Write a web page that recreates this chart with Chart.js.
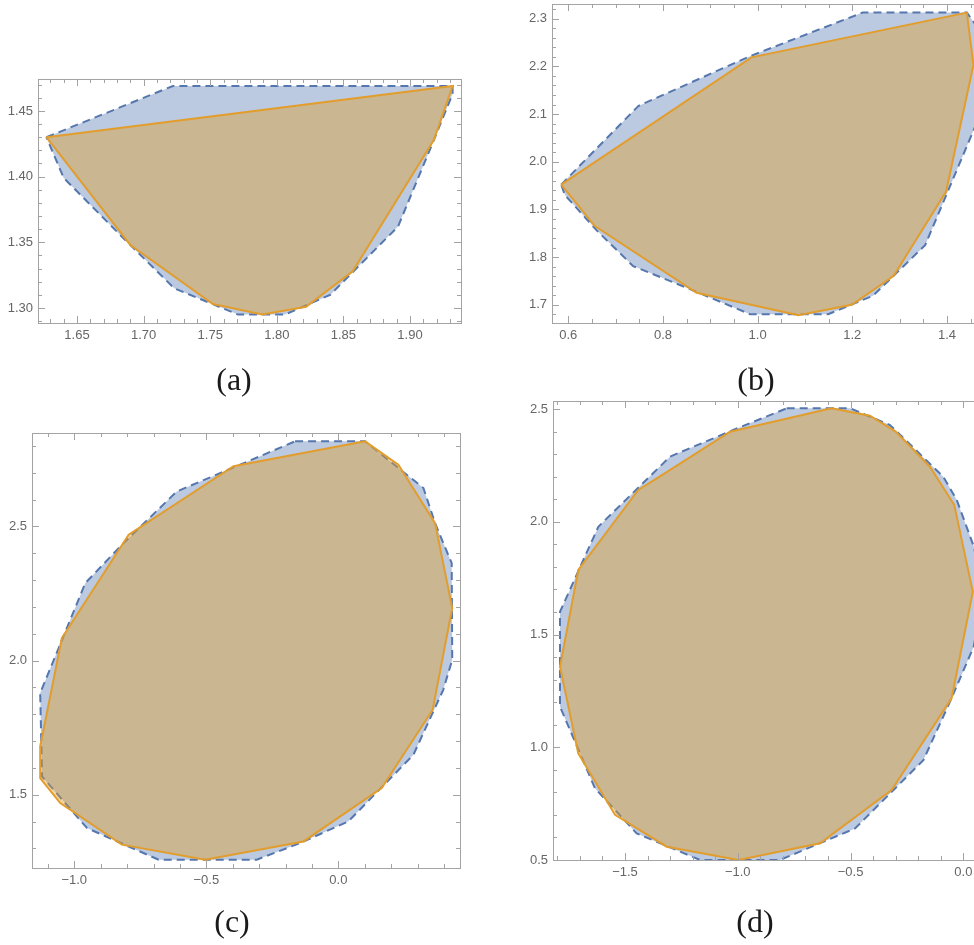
<!DOCTYPE html>
<html>
<head>
<meta charset="utf-8">
<script src="https://cdn.jsdelivr.net/npm/chart.js@4.4.1/dist/chart.umd.min.js"></script>
<style>
html, body { margin: 0; padding: 0; background: #fff; overflow: hidden; width: 974px; height: 945px; }
.panel { position: absolute; }
.cap { position: absolute; font-family: "Liberation Serif", "DejaVu Serif", serif; font-size: 32px; color: #1a1a1a; transform: translate(-50%, -50%); }
</style>
</head>
<body>
<div class="panel" style="left:0;top:0"><canvas id="ca" width="487" height="400"></canvas></div>
<div class="panel" style="left:487px;top:0"><canvas id="cb" width="510" height="400"></canvas></div>
<div class="panel" style="left:0;top:400px"><canvas id="cc" width="487" height="545"></canvas></div>
<div class="panel" style="left:487px;top:390px"><canvas id="cd" width="510" height="555"></canvas></div>
<div class="cap" style="left:234px;top:379px">(a)</div>
<div class="cap" style="left:756px;top:379px">(b)</div>
<div class="cap" style="left:232px;top:921px">(c)</div>
<div class="cap" style="left:755px;top:921px">(d)</div>
<script>
// panel (a)
var aBlueX = [1.627, 1.722, 1.932, 1.932, 1.918, 1.891, 1.840, 1.806, 1.771, 1.723, 1.686, 1.640];
var aBlueY = [1.430, 1.469, 1.469, 1.463, 1.428, 1.362, 1.310, 1.295, 1.295, 1.315, 1.352, 1.399];
var aOrangeX = [1.627, 1.932, 1.918, 1.857, 1.822, 1.789, 1.752, 1.690];
var aOrangeY = [1.430, 1.469, 1.428, 1.328, 1.301, 1.295, 1.303, 1.348];
var aTicksX = [1.65, 1.70, 1.75, 1.80, 1.85, 1.90];
var aTicksY = [1.30, 1.35, 1.40, 1.45];

// panel (b)
var bBlueX = [0.585, 0.748, 0.985, 1.222, 1.442, 1.466, 1.468, 1.460, 1.354, 1.244, 1.149, 0.984, 0.854, 0.737, 0.660, 0.593];
var bBlueY = [1.952, 2.117, 2.222, 2.313, 2.313, 2.280, 2.100, 2.075, 1.825, 1.719, 1.680, 1.680, 1.734, 1.781, 1.856, 1.930];
var bOrangeX = [0.585, 0.987, 1.442, 1.456, 1.398, 1.287, 1.199, 1.086, 0.871, 0.656];
var bOrangeY = [1.952, 2.219, 2.313, 2.203, 1.937, 1.760, 1.700, 1.678, 1.725, 1.865];
var bTicksX = [0.6, 0.8, 1.0, 1.2, 1.4];
var bTicksY = [1.7, 1.8, 1.9, 2.0, 2.1, 2.2, 2.3];

// panel (c)
var cBlueX = [-0.164, 0.101, 0.322, 0.366, 0.429, 0.431, 0.397, 0.284, 0.038, -0.145, -0.309, -0.681, -0.952, -1.122, -1.129, -0.958, -0.813, -0.612, -0.372];
var cBlueY = [2.817, 2.817, 2.643, 2.512, 2.363, 2.003, 1.891, 1.649, 1.401, 1.320, 1.258, 1.258, 1.376, 1.568, 1.879, 2.289, 2.438, 2.630, 2.730];
var cOrangeX = [0.101, 0.227, 0.366, 0.431, 0.357, 0.164, -0.132, -0.504, -0.820, -1.053, -1.129, -1.129, -1.047, -0.794, -0.397];
var cOrangeY = [2.817, 2.730, 2.512, 2.196, 1.817, 1.525, 1.326, 1.258, 1.314, 1.469, 1.562, 1.680, 2.084, 2.469, 2.724];
var cTicksX = [-1.0, -0.5, 0.0];
var cTicksY = [1.5, 2.0, 2.5];

// panel (d)
var dBlueX = [-0.783, -0.502, -0.325, -0.089, -0.029, 0.047, 0.065, 0.065, 0.046, -0.059, -0.177, -0.480, -0.813, -1.167, -1.448, -1.633, -1.788, -1.788, -1.618, -1.300, -1.020];
var dBlueY = [2.503, 2.503, 2.429, 2.200, 2.096, 1.889, 1.800, 1.550, 1.446, 1.202, 0.943, 0.640, 0.500, 0.500, 0.618, 0.818, 1.180, 1.601, 1.978, 2.289, 2.407];
var dOrangeX = [-0.584, -0.414, -0.300, -0.148, -0.040, 0.042, -0.052, -0.318, -0.635, -0.997, -1.315, -1.544, -1.707, -1.788, -1.707, -1.441, -1.352, -1.034];
var dOrangeY = [2.503, 2.470, 2.400, 2.244, 2.074, 1.690, 1.217, 0.810, 0.574, 0.500, 0.559, 0.700, 0.973, 1.357, 1.786, 2.141, 2.197, 2.399];
var dTicksX = [-1.5, -1.0, -0.5, 0.0];
var dTicksY = [0.5, 1.0, 1.5, 2.0, 2.5];

// closed list of points for a polygon
function pts(xs, ys) {
  var out = [];
  for (var i = 0; i < xs.length; i++) out.push({x: xs[i], y: ys[i]});
  out.push({x: xs[0], y: ys[0]});
  return out;
}

// Mathematica style frame, ticks pointing inwards on all four sides
var framePlugin = {
  id: 'frame',
  afterDatasetsDraw: function(chart, args, opts) {
    var ctx = chart.ctx, a = chart.chartArea;
    var xs = chart.scales.x, ys = chart.scales.y;
    ctx.save();
    ctx.strokeStyle = '#a3a3a3';
    ctx.lineWidth = 1;
    ctx.strokeRect(Math.round(a.left) + 0.5, Math.round(a.top) + 0.5, Math.round(a.right - a.left), Math.round(a.bottom - a.top));
    ctx.beginPath();
    var k, v, p, len;
    for (k = Math.ceil(xs.min / opts.minorX - 1e-6); k * opts.minorX <= xs.max + 1e-9; k++) {
      v = k * opts.minorX;
      len = Math.abs(v / opts.majorX - Math.round(v / opts.majorX)) < 1e-6 ? 7 : 4;
      p = Math.round(xs.getPixelForValue(v)) + 0.5;
      ctx.moveTo(p, a.bottom); ctx.lineTo(p, a.bottom - len);
      ctx.moveTo(p, a.top); ctx.lineTo(p, a.top + len);
    }
    for (k = Math.ceil(ys.min / opts.minorY - 1e-6); k * opts.minorY <= ys.max + 1e-9; k++) {
      v = k * opts.minorY;
      len = Math.abs(v / opts.majorY - Math.round(v / opts.majorY)) < 1e-6 ? 7 : 4;
      p = Math.round(ys.getPixelForValue(v)) + 0.5;
      ctx.moveTo(a.left, p); ctx.lineTo(a.left + len, p);
      ctx.moveTo(a.right, p); ctx.lineTo(a.right - len, p);
    }
    ctx.stroke();
    ctx.restore();
  }
};

function fmt(dec) {
  return function(v) {
    var s = Math.abs(v).toFixed(dec);
    return v < -1e-9 ? '\u2212' + s : s;
  };
}

function makePanel(id, c) {
  var tickFont = {family: '"Liberation Sans", Arial, sans-serif', size: 13};
  new Chart(document.getElementById(id), {
    type: 'scatter',
    data: {
      datasets: [{
        data: pts(c.blueX, c.blueY),
        showLine: true,
        fill: 'shape',
        backgroundColor: 'rgba(94,129,181,0.42)',
        borderColor: '#5677ad',
        borderWidth: 2,
        borderDash: [8, 5],
        pointRadius: 0,
        order: 2
      }, {
        data: pts(c.orangeX, c.orangeY),
        showLine: true,
        fill: 'shape',
        backgroundColor: 'rgba(225,156,36,0.42)',
        borderColor: '#e29d2c',
        borderWidth: 2,
        pointRadius: 0,
        order: 1
      }]
    },
    options: {
      responsive: false,
      animation: false,
      layout: {padding: c.pad},
      plugins: {
        legend: {display: false},
        tooltip: {enabled: false},
        frame: {majorX: c.majorX, minorX: c.minorX, majorY: c.majorY, minorY: c.minorY}
      },
      scales: {
        x: {
          type: 'linear', min: c.xMin, max: c.xMax,
          grid: {display: false, drawTicks: false},
          border: {display: false},
          ticks: {padding: 5, color: '#666', font: tickFont, autoSkip: false, maxRotation: 0, callback: fmt(c.dec)},
          afterBuildTicks: function(s) { s.ticks = c.ticksX.map(function(v) { return {value: v}; }); },
          afterFit: function(s) { s.height = 30; s.paddingLeft = 0; s.paddingRight = 0; }
        },
        y: {
          type: 'linear', min: c.yMin, max: c.yMax,
          grid: {display: false, drawTicks: false},
          border: {display: false},
          ticks: {padding: 5, color: '#666', font: tickFont, autoSkip: false, callback: fmt(c.dec)},
          afterBuildTicks: function(s) { s.ticks = c.ticksY.map(function(v) { return {value: v}; }); },
          afterFit: function(s) { s.width = c.yWidth; s.paddingTop = 0; s.paddingBottom = 0; }
        }
      }
    },
    plugins: [framePlugin]
  });
}

makePanel('ca', {
  blueX: aBlueX, blueY: aBlueY, orangeX: aOrangeX, orangeY: aOrangeY,
  ticksX: aTicksX, ticksY: aTicksY, dec: 2,
  xMin: 1.6207, xMax: 1.9383, yMin: 1.2886, yMax: 1.4743,
  majorX: 0.05, minorX: 0.01, majorY: 0.05, minorY: 0.01,
  yWidth: 38, pad: {left: 0, top: 79, right: 26, bottom: 47}
});
makePanel('cb', {
  blueX: bBlueX, blueY: bBlueY, orangeX: bOrangeX, orangeY: bOrangeY,
  ticksX: bTicksX, ticksY: bTicksY, dec: 1,
  xMin: 0.5656, xMax: 1.4825, yMin: 1.6616, yMax: 2.331,
  majorX: 0.2, minorX: 0.05, majorY: 0.1, minorY: 0.02,
  yWidth: 65, pad: {left: 0, top: 4, right: 11, bottom: 47}
});
makePanel('cc', {
  blueX: cBlueX, blueY: cBlueY, orangeX: cOrangeX, orangeY: cOrangeY,
  ticksX: cTicksX, ticksY: cTicksY, dec: 1,
  xMin: -1.160, xMax: 0.4604, yMin: 1.227, yMax: 2.848,
  majorX: 0.5, minorX: 0.1, majorY: 0.5, minorY: 0.1,
  yWidth: 32, pad: {left: 0, top: 33, right: 27, bottom: 47}
});
makePanel('cd', {
  blueX: dBlueX, blueY: dBlueY, orangeX: dOrangeX, orangeY: dOrangeY,
  ticksX: dTicksX, ticksY: dTicksY, dec: 1,
  xMin: -1.819, xMax: 0.1005, yMin: 0.5, yMax: 2.5355,
  majorX: 0.5, minorX: 0.1, majorY: 0.5, minorY: 0.1,
  yWidth: 66, pad: {left: 0, top: 11, right: 11, bottom: 55}
});
</script>
</body>
</html>
